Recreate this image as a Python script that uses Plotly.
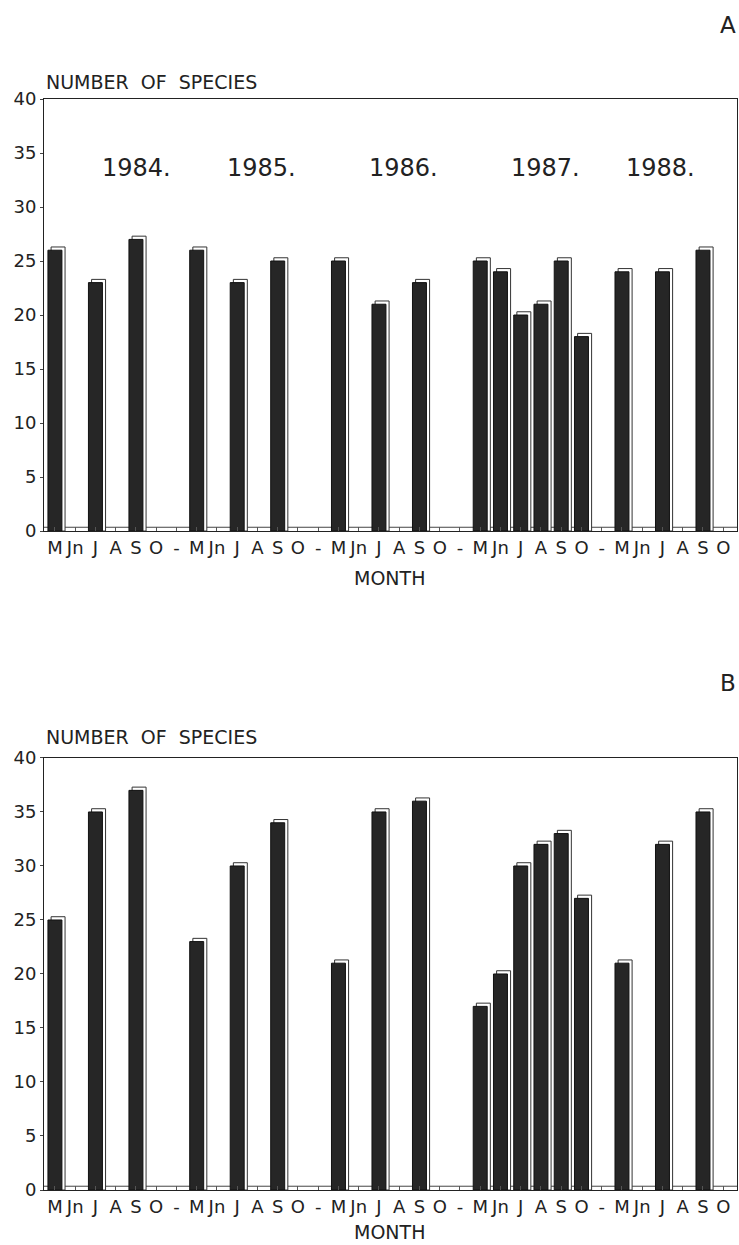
import plotly.graph_objects as go
from plotly.subplots import make_subplots

months = ["M", "Jn", "J", "A", "S", "O"]
years = ["1984.", "1985.", "1986.", "1987.", "1988."]

# Panel A: number of species per month (None = not sampled)
A_1984 = [26, None, 23, None, 27, None]
A_1985 = [26, None, 23, None, 25, None]
A_1986 = [25, None, 21, None, 23, None]
A_1987 = [25, 24, 20, 21, 25, 18]
A_1988 = [24, None, 24, None, 26, None]

# Panel B
B_1984 = [25, None, 35, None, 37, None]
B_1985 = [23, None, 30, None, 34, None]
B_1986 = [21, None, 35, None, 36, None]
B_1987 = [17, 20, 30, 32, 33, 27]
B_1988 = [21, None, 32, None, 35, None]

panel_A = [A_1984, A_1985, A_1986, A_1987, A_1988]
panel_B = [B_1984, B_1985, B_1986, B_1987, B_1988]

# category slots along x: months of each year, separated by "-"
tick_text = []
for yi in range(len(years)):
    tick_text += months
    if yi < len(years) - 1:
        tick_text.append("-")
tick_vals = list(range(len(tick_text)))

FONT = "DejaVu Sans"
DARK = "#262626"
TXT = "#222"

fig = make_subplots(rows=2, cols=1, vertical_spacing=0.0)

def add_panel(values, row):
    xs, ys = [], []
    for yi, yv in enumerate(values):
        for mi, v in enumerate(yv):
            if v is not None:
                xs.append(yi * 7 + mi)
                ys.append(v)
    # white "3D" side / cap behind the dark face
    fig.add_trace(go.Bar(x=xs, y=[v + 0.3 for v in ys], width=0.69, offset=-0.19,
                         marker=dict(color="white", line=dict(color="#333", width=1)),
                         hoverinfo="skip", showlegend=False), row=row, col=1)
    fig.add_trace(go.Bar(x=xs, y=ys, width=0.69, offset=-0.345,
                         marker=dict(color=DARK, line=dict(color="#111", width=1)),
                         showlegend=False), row=row, col=1)

add_panel(panel_A, 1)
add_panel(panel_B, 2)

for r in (1, 2):
    fig.update_xaxes(range=[-0.54, 33.68], tickmode="array", tickvals=tick_vals,
                     ticktext=tick_text, ticks="inside", ticklen=4, tickcolor="#555",
                     showgrid=False, zeroline=False, showline=True, linecolor="#222",
                     linewidth=1, mirror=True,
                     tickfont=dict(family=FONT, size=18, color=TXT), row=r, col=1)
    fig.update_yaxes(range=[0, 40], tickvals=[0, 5, 10, 15, 20, 25, 30, 35, 40],
                     ticks="outside", ticklen=3, tickcolor="#444",
                     showgrid=False, zeroline=False, showline=True, linecolor="#222",
                     linewidth=1, mirror=True,
                     tickfont=dict(family=FONT, size=18, color=TXT), row=r, col=1)
    # floor line of the 3D base
    fig.add_shape(type="line", x0=-0.54, x1=33.68, y0=0.35, y1=0.35,
                  xref="x" if r == 1 else "x2", yref="y" if r == 1 else "y2",
                  line=dict(color="#444", width=1), layer="below")

fig.update_layout(
    barmode="overlay",
    width=739, height=1245,
    margin=dict(l=44, r=2, t=99, b=55),
    paper_bgcolor="white", plot_bgcolor="white",
    font=dict(family=FONT, color=TXT),
    yaxis=dict(domain=[0.604, 1.0]),
    yaxis2=dict(domain=[0.0, 0.396]),
)

year_x = [4.05, 10.2, 17.2, 24.2, 29.9]
annotations = []
for yx, label in zip(year_x, years):
    annotations.append(dict(x=yx, y=33.6, xref="x", yref="y", text=label, showarrow=False,
                            xanchor="center", yanchor="middle",
                            font=dict(family=FONT, size=24, color=TXT)))
for ytop, yletter, ymonth, letter in [(1.0156, 1.068, 0.561, "A"), (0.415, 0.4647, -0.0385, "B")]:
    annotations.append(dict(x=0.0, y=ytop, xref="paper", yref="paper", xanchor="left",
                            yanchor="middle", text="NUMBER\u00a0\u00a0OF\u00a0\u00a0SPECIES",
                            showarrow=False, font=dict(family=FONT, size=19, color=TXT)))
    annotations.append(dict(x=0.987, y=yletter, xref="paper", yref="paper", text=letter,
                            xanchor="center", yanchor="middle", showarrow=False,
                            font=dict(family=FONT, size=23, color=TXT)))
    annotations.append(dict(x=0.499, y=ymonth, xref="paper", yref="paper", text="MONTH",
                            xanchor="center", yanchor="middle", showarrow=False,
                            font=dict(family=FONT, size=19, color=TXT)))
fig.update_layout(annotations=annotations)

# remove the default page margin so the figure fills the window exactly
fig.write_html("out.html", config={"displayModeBar": False},
               post_script="document.body.style.margin='0';document.body.style.overflow='hidden';")
